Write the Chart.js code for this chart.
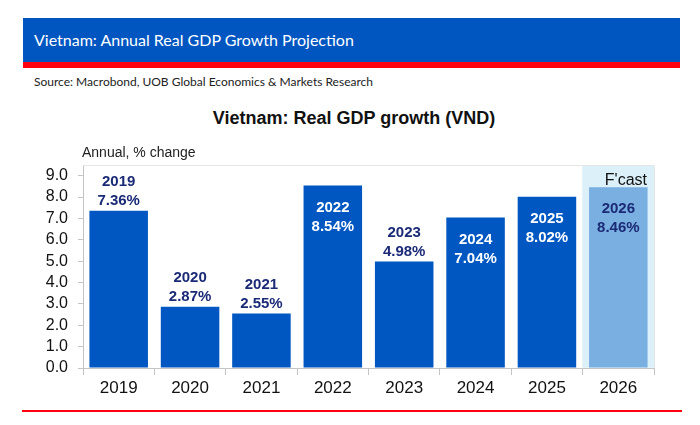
<!DOCTYPE html>
<html>
<head>
<meta charset="utf-8">
<script src="https://cdn.jsdelivr.net/npm/chart.js"></script>
<style>
  body { margin: 0; background: #fff; }
  #wrap { position: relative; width: 700px; height: 425px; overflow: hidden; }
  #header { position: absolute; left: 23px; top: 18px; width: 657px; height: 44px; background: #0056c1;
            border-bottom: 6px solid #ff0010; }
  #header span { position: absolute; left: 11px; top: 12px; color: #fff; font: 16px Lato, "Open Sans", sans-serif; }
  #source { position: absolute; left: 34px; top: 74px; color: #222; font: 12px Lato, "Open Sans", sans-serif; }
  #title { position: absolute; left: 0; width: 708px; top: 108px; text-align: center; color: #111;
           font: bold 18px "Liberation Sans", Arial, sans-serif; }
  #bottomline { position: absolute; left: 22px; top: 410px; width: 660px; height: 2px; background: #ff0010; }
  canvas { position: absolute; left: 0; top: 0; }
</style>
</head>
<body>
<div id="wrap">
  <div id="header"><span>Vietnam: Annual Real GDP Growth Projection</span></div>
  <div id="source">Source: Macrobond, UOB Global Economics &amp; Markets Research</div>
  <div id="title">Vietnam: Real GDP growth (VND)</div>
  <div id="bottomline"></div>
  <canvas id="gdp" width="700" height="425"></canvas>
</div>
<script>
// data
var years = ['2019', '2020', '2021', '2022', '2023', '2024', '2025', '2026'];
var growth = [7.36, 2.87, 2.55, 8.54, 4.98, 7.04, 8.02, 8.46];
var forecast = [false, false, false, false, false, false, false, true];
var labelInside = [false, false, false, true, false, true, true, true];
var yTicks = [0, 1, 2, 3, 4, 5, 6, 7, 8, 9];

var barColor = forecast.map(f => f ? '#7aafe1' : '#0057c2');
var shade = forecast.map(f => f ? 9.5 : null);

var labelsPlugin = {
  id: 'barLabels',
  afterDatasetsDraw(chart) {
    var ctx = chart.ctx;
    var area = chart.chartArea;
    var meta = chart.getDatasetMeta(0);
    ctx.save();
    // faint plot frame
    ctx.strokeStyle = '#e6e6e6';
    ctx.lineWidth = 1;
    ctx.beginPath();
    ctx.moveTo(area.left, area.top + 0.5);
    ctx.lineTo(area.right + 0.5, area.top + 0.5);
    ctx.lineTo(area.right + 0.5, area.bottom);
    ctx.stroke();

    ctx.font = 'bold 15px "Liberation Sans", Arial, sans-serif';
    ctx.textAlign = 'center';
    ctx.textBaseline = 'middle';
    meta.data.forEach((bar, i) => {
      var inside = labelInside[i];
      var y1 = inside ? bar.y + 22 : bar.y - 29;
      var y2 = inside ? bar.y + 41 : bar.y - 10;
      ctx.fillStyle = (inside && !forecast[i]) ? '#ffffff' : '#1b2a76';
      ctx.fillText(years[i], bar.x, y1);
      ctx.fillText(growth[i].toFixed(2) + '%', bar.x, y2);
    });

    ctx.font = '14px "Liberation Sans", Arial, sans-serif';
    ctx.fillStyle = '#222';
    ctx.textAlign = 'left';
    ctx.fillText('Annual, % change', area.left - 1, area.top - 12);

    var fi = forecast.indexOf(true);
    if (fi >= 0) {
      ctx.font = '16px "Liberation Sans", Arial, sans-serif';
      ctx.fillStyle = '#111';
      ctx.textAlign = 'right';
      ctx.fillText("F'cast", area.right - 7, area.top + 16);
    }
    ctx.restore();
  }
};

new Chart(document.getElementById('gdp').getContext('2d'), {
  type: 'bar',
  data: {
    labels: years,
    datasets: [{
      data: growth,
      backgroundColor: barColor,
      barPercentage: 0.82,
      categoryPercentage: 1,
      grouped: false,
      order: 1
    }, {
      data: shade,
      backgroundColor: '#dbf0f9',
      barPercentage: 1,
      categoryPercentage: 1,
      grouped: false,
      order: 2
    }]
  },
  options: {
    responsive: false,
    animation: false,
    layout: { padding: { left: 43, right: 46, top: 165, bottom: 20 } },
    scales: {
      x: {
        offset: true,
        grid: { display: true, offset: true, drawOnChartArea: false, tickLength: 7, color: '#c4c4c4' },
        border: { color: '#c4c4c4' },
        ticks: { color: '#111', font: { size: 17, family: '"Liberation Sans", Arial, sans-serif' }, padding: 3 },
        afterFit(scale) { scale.height = 37; }
      },
      y: {
        min: 0,
        max: 9.5,
        ticks: {
          color: '#111',
          padding: 10,
          font: { size: 16, family: '"Liberation Sans", Arial, sans-serif' },
          callback: v => v.toFixed(1)
        },
        afterBuildTicks(scale) { scale.ticks = yTicks.map(v => ({ value: v })); },
        grid: { drawOnChartArea: false, tickLength: 5, color: '#c4c4c4' },
        border: { color: '#c4c4c4' },
        afterFit(scale) { scale.width = 40; }
      }
    },
    plugins: {
      legend: { display: false },
      tooltip: { enabled: false }
    }
  },
  plugins: [labelsPlugin]
});
</script>
</body>
</html>
